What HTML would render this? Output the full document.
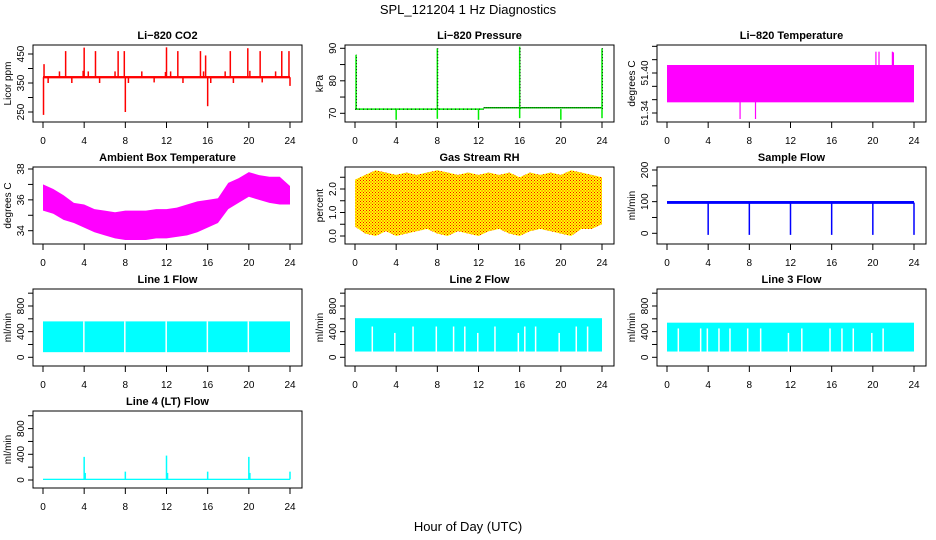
<!DOCTYPE html>
<html><head><meta charset="utf-8"><style>
html,body{margin:0;padding:0;background:#fff;}
svg{display:block;font-family:"Liberation Sans",sans-serif;}
</style></head><body>
<svg id="chart" width="936" height="540" viewBox="0 0 936 540" xmlns="http://www.w3.org/2000/svg">
<defs>
<pattern id="rhpat" width="3" height="3" patternUnits="userSpaceOnUse">
<rect width="3" height="3" fill="#ffff00"/><rect x="0" y="0" width="1" height="1" fill="#ff0000"/><rect x="1.5" y="1.5" width="1" height="1" fill="#ff0000"/>
</pattern>
</defs>
<text x="468" y="14" text-anchor="middle" font-size="13">SPL_121204  1 Hz Diagnostics</text>
<text x="468" y="531" text-anchor="middle" font-size="13">Hour of Day (UTC)</text>
</svg>
<script>
// ---- data ----
const xTicks = [0,4,8,12,16,20,24];
const co2Base = [366,374];
const co2SpikeHours = [0.05,0.1,2.2,4.0,5.1,7.3,7.9,8.0,12.0,13.1,15.3,15.8,16.0,18.2,19.9,21.1,23.2,23.9,1.6,3.9,4.4,7.0,9.6,11.9,12.4,15.6,17.7,20.1,22.6,0.5,2.8,5.5,8.3,10.8,13.6,16.3,18.5,21.3,24.0];
const co2SpikeVals  = [240,415,460,472,460,460,460,250,473,460,460,445,270,460,470,460,460,460,390,392,390,390,390,388,390,390,390,392,390,350,350,350,350,352,350,350,350,352,340];
const presBase1 = 71.3, presBase2 = 71.7, presSwitch = 12.5;
const presSpikeHours = [0.1,8.0,16.0,24.0];
const presSpikeVals = [88,90,90.5,90];
const presDipHours = [4.0,8.0,12.0,16.0,20.0,24.0];
const presDipVals = [68,68.3,68,68.5,68,68.5];
const tempBand = [51.356,51.412];
const tempSpikeHours = [20.3,20.6,21.9,22.0,7.1,8.6];
const tempSpikeVals = [51.432,51.432,51.432,51.431,51.331,51.331];
const ambHours = [0,1,2,3,4,5,6,7,8,9,10,11,12,13,14,15,16,17,18,19,20,21,22,23,24];
const ambUpper = [37.0,36.7,36.3,35.8,35.7,35.4,35.3,35.2,35.3,35.3,35.3,35.4,35.4,35.5,35.7,35.9,36.0,36.1,37.1,37.4,37.8,37.6,37.5,37.5,36.9];
const ambLower = [35.3,35.1,34.7,34.5,34.2,33.9,33.7,33.5,33.4,33.4,33.4,33.5,33.5,33.6,33.7,33.9,34.2,34.5,35.4,35.8,36.2,36.0,35.8,35.7,35.7];
const rhHours = [0,1,2,3,4,5,6,7,8,9,10,11,12,13,14,15,16,17,18,19,20,21,22,23,24];
const rhUpper = [2.4,2.6,2.8,2.7,2.6,2.7,2.6,2.7,2.8,2.7,2.6,2.7,2.6,2.7,2.6,2.7,2.5,2.7,2.6,2.7,2.6,2.8,2.7,2.6,2.5];
const rhLower = [0.4,0.1,0.0,0.2,0.0,0.1,0.2,0.3,0.1,0.0,0.2,0.1,0.0,0.2,0.3,0.1,0.0,0.2,0.3,0.2,0.1,0.0,0.3,0.3,0.5];
const sfBand = [93,102];
const sfDipHours = [4.0,8.0,12.0,16.0,20.0,24.0];
const sfDipVals = [-5,-5,-5,-5,-5,-5];
const l1Band = [80,560];
const l1GapHours = [3.97,7.95,11.97,15.97,19.95];
const l1GapTops = [560,560,560,560,560];
const l2Band = [90,610];
const l2GapHours = [1.68,3.87,5.64,7.9,9.58,10.67,11.93,13.6,15.87,16.5,17.55,19.84,21.5,22.6];
const l2GapTops = [480,380,480,480,480,480,380,480,380,480,480,380,480,480];
const l3Band = [90,540];
const l3GapHours = [1.1,3.27,3.92,5.05,6.12,7.84,9.1,11.8,13.1,15.84,17.0,18.1,19.9,21.0];
const l3GapTops = [450,450,450,450,450,450,450,380,450,450,450,450,380,450];
const l4Base = [0,20];
const l4SpikeHours = [4.0,4.1,8.0,12.0,12.1,16.0,20.0,20.1,24.0];
const l4SpikeVals = [360,110,130,380,110,130,360,110,130];

// ---- rendering ----
const svg = document.getElementById('chart');
const NS = 'http://www.w3.org/2000/svg';
function mk(tag, attrs, parent){ const e=document.createElementNS(NS,tag); for(const k in attrs) e.setAttribute(k,attrs[k]); (parent||svg).appendChild(e); return e; }
const colX = [43,355,667];

function panel(cfg){
  const g = mk('g',{});
  
  
  const top = 45 + 122*cfg.row, bot = top + 77;
  const x0 = colX[cfg.col];
  const X = h => x0 + h*247/24;
  const [v1,p1,v2,p2] = cfg.ymap;
  const Y = v => top + p1 + (v-v1)*(p2-p1)/(v2-v1);
  const left = X(0)-10, right = X(24)+12;
  const clip = 'clip'+cfg.row+cfg.col;
  const cp = mk('clipPath',{id:clip},g); mk('rect',{x:left,y:top,width:right-left,height:bot-top},cp);
  const d = mk('g',{'clip-path':'url(#'+clip+')'},g);
  
  
  cfg.draw(d, X, Y);
  const box = mk('rect',{x:left,y:top,width:right-left,height:bot-top,fill:'none',stroke:'#000','stroke-width':1},g);
  
  
  const t = mk('text',{x:(left+right)/2,y:top-6,'text-anchor':'middle','font-size':11,'font-weight':'bold'},g);
  t.textContent = cfg.title;
  
  
  const xa = mk('g',{},g);
  
  
  xTicks.forEach(h=>{
    mk('line',{x1:X(h),x2:X(h),y1:bot,y2:bot+6,stroke:'#000'},xa);
    const tl = mk('text',{x:X(h),y:bot+22,'text-anchor':'middle','font-size':10},xa);
    tl.textContent = h;
  });
  const ya = mk('g',{},g);
  
  
  const yt = cfg.yticks;
  mk('line',{x1:left,x2:left,y1:Y(yt[0]),y2:Y(yt[yt.length-1]),stroke:'#000'},ya);
  yt.forEach(v=>{ mk('line',{x1:left-5,x2:left,y1:Y(v),y2:Y(v),stroke:'#000'},ya); });
  cfg.ylabels.forEach(v=>{
    const yy=Y(v), xx=left-9;
    const tl = mk('text',{x:xx,y:yy,'text-anchor':'middle','font-size':10,transform:'rotate(-90 '+xx+' '+yy+')'},ya);
    tl.textContent = cfg.ylabelFmt ? cfg.ylabelFmt(v) : v;
  });
  const yx = left-22, ym = (top+bot)/2;
  const yl = mk('text',{x:yx,y:ym,'text-anchor':'middle','font-size':10,transform:'rotate(-90 '+yx+' '+ym+')'},g);
  yl.textContent = cfg.ylab;
  
  
}
function vl(g,x,y1,y2,c,w){ return mk('line',{x1:x,x2:x,y1:y1,y2:y2,stroke:c,'stroke-width':w||1.2},g); }
function bandRect(g,X,Y,lo,hi,h0,h1,fill){ return mk('rect',{x:X(h0),y:Y(hi),width:X(h1)-X(h0),height:Y(lo)-Y(hi),fill:fill},g); }
function envPoly(g,X,Y,hs,up,lo,fill){
  let pts = hs.map((h,i)=>X(h)+','+Y(up[i]));
  for(let i=hs.length-1;i>=0;i--) pts.push(X(hs[i])+','+Y(lo[i]));
  return mk('polygon',{points:pts.join(' '),fill:fill},g);
}

panel({name:'co2-panel',title:'Li\u2212820 CO2',row:0,col:0,ymap:[250,67,450,9],yticks:[250,300,350,400,450],ylabels:[250,350,450],ylab:'Licor ppm',
 draw:(g,X,Y)=>{
  bandRect(g,X,Y,co2Base[0],co2Base[1],0,24,'#ff0000');
  co2SpikeHours.forEach((h,i)=>{ const v=co2SpikeVals[i]; vl(g,X(h),Y(370),Y(v),'#ff0000',1.5); });
 }});
panel({name:'pressure-panel',title:'Li\u2212820 Pressure',row:0,col:1,ymap:[70,68.3,90,3.3],yticks:[70,75,80,85,90],ylabels:[70,80,90],ylab:'kPa',
 draw:(g,X,Y)=>{
  mk('line',{x1:X(0),x2:X(presSwitch),y1:Y(presBase1),y2:Y(presBase1),stroke:'#00ee00','stroke-width':1.5},g);
  mk('line',{x1:X(presSwitch),x2:X(24),y1:Y(presBase2),y2:Y(presBase2),stroke:'#00ee00','stroke-width':1.5},g);
  mk('line',{x1:X(0),x2:X(presSwitch),y1:Y(presBase1),y2:Y(presBase1),stroke:'#000','stroke-width':1,'stroke-dasharray':'1 3'},g);
  mk('line',{x1:X(presSwitch),x2:X(24),y1:Y(presBase2),y2:Y(presBase2),stroke:'#000','stroke-width':1,'stroke-dasharray':'1 1'},g);
  presSpikeHours.forEach((h,i)=>{ vl(g,X(h),Y(presBase1),Y(presSpikeVals[i]),'#00ee00',1.5); vl(g,X(h)+0.5,Y(presBase1),Y(presSpikeVals[i]),'#000',0.8).setAttribute('stroke-dasharray','1 2'); });
  presDipHours.forEach((h,i)=>{ vl(g,X(h),Y(presBase1),Y(presDipVals[i]),'#00ee00',1.5); });
 }});
panel({name:'temperature-panel',title:'Li\u2212820 Temperature',row:0,col:2,ymap:[51.34,68,51.40,28],yticks:[51.34,51.36,51.38,51.40,51.42,51.44],ylabels:[51.34,51.40],ylabelFmt:v=>v.toFixed(2),ylab:'degrees C',
 draw:(g,X,Y)=>{
  bandRect(g,X,Y,tempBand[0],tempBand[1],0,24,'#ff00ff');
  tempSpikeHours.forEach((h,i)=>{ vl(g,X(h),Y(51.38),Y(tempSpikeVals[i]),'#ff00ff',1.2); });
 }});
panel({name:'ambient-temp-panel',title:'Ambient Box Temperature',row:1,col:0,ymap:[34,63.7,38,2],yticks:[34,35,36,37,38],ylabels:[34,36,38],ylab:'degrees C',
 draw:(g,X,Y)=>{ envPoly(g,X,Y,ambHours,ambUpper,ambLower,'#ff00ff'); }});
panel({name:'rh-panel',title:'Gas Stream RH',row:1,col:1,ymap:[0,69,2,22],yticks:[0,0.5,1,1.5,2,2.5],ylabels:[0,1,2],ylabelFmt:v=>v.toFixed(1),ylab:'percent',
 draw:(g,X,Y)=>{ envPoly(g,X,Y,rhHours,rhUpper,rhLower,'url(#rhpat)'); }});
panel({name:'sample-flow-panel',title:'Sample Flow',row:1,col:2,ymap:[0,66.3,200,3],yticks:[0,50,100,150,200],ylabels:[0,100,200],ylab:'ml/min',
 draw:(g,X,Y)=>{
  bandRect(g,X,Y,sfBand[0],sfBand[1],0,24,'#0000ff');
  sfDipHours.forEach((h,i)=>{ vl(g,X(h),Y(97),Y(sfDipVals[i]),'#0000ff',1.5); });
 }});
function lineFlow(name,title,col,row,band,gh,gt){
  panel({name:name,title:title,row:row,col:col,ymap:[0,68.3,800,17],yticks:[0,200,400,600,800,1000],ylabels:[0,400,800],ylab:'ml/min',
   draw:(g,X,Y)=>{
    bandRect(g,X,Y,band[0],band[1],0,24,'#00ffff');
    gh.forEach((h,i)=>{ vl(g,X(h),Y(band[0])+1,Y(gt[i]),'#ffffff',1.5); });
   }});
}
lineFlow('line1-flow-panel','Line 1 Flow',0,2,l1Band,l1GapHours,l1GapTops);
lineFlow('line2-flow-panel','Line 2 Flow',1,2,l2Band,l2GapHours,l2GapTops);
lineFlow('line3-flow-panel','Line 3 Flow',2,2,l3Band,l3GapHours,l3GapTops);
panel({name:'line4-flow-panel',title:'Line 4 (LT) Flow',row:3,col:0,ymap:[0,69,800,17.6],yticks:[0,200,400,600,800,1000],ylabels:[0,400,800],ylab:'ml/min',
 draw:(g,X,Y)=>{
  bandRect(g,X,Y,l4Base[0],l4Base[1],0,24,'#00ffff');
  l4SpikeHours.forEach((h,i)=>{ vl(g,X(h),Y(10),Y(l4SpikeVals[i]),'#00ffff',1.5); });
 }});
</script>
</body></html>
